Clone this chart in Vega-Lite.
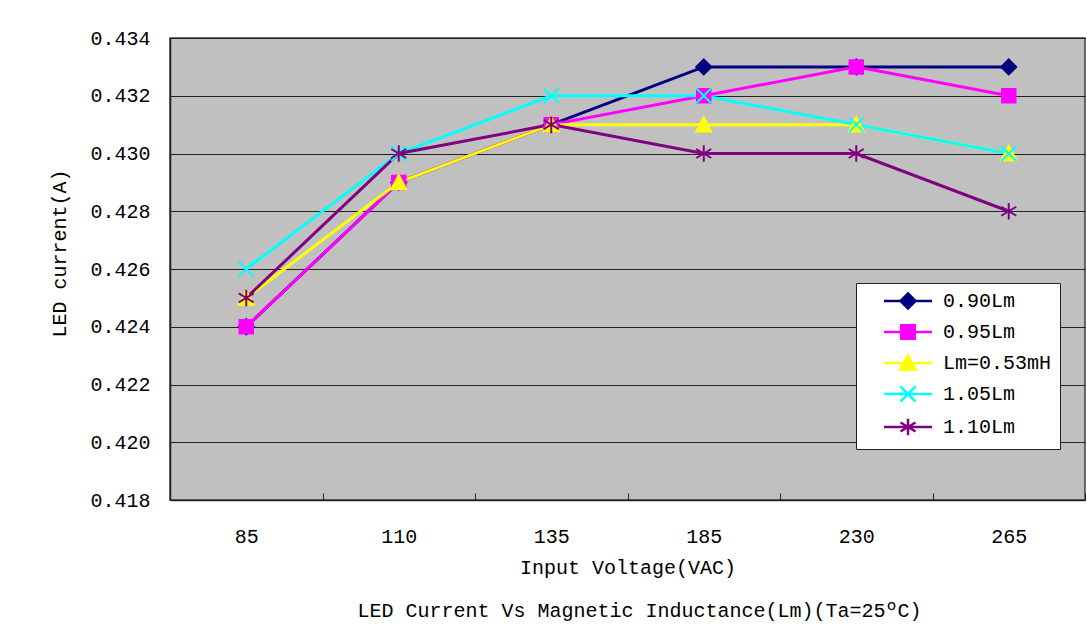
{
  "$schema": "https://vega.github.io/schema/vega-lite/v6.json",
  "width": 915,
  "height": 462,
  "autosize": {"type": "none"},
  "padding": {"left": 170, "top": 38, "right": 2, "bottom": 142},
  "background": "white",
  "config": {
    "font": "Liberation Mono",
    "view": {"fill": "#C0C0C0", "stroke": "#404040", "strokeWidth": 1.5},
    "axis": {"labelFont": "Liberation Mono", "titleFont": "Liberation Mono", "labelColor": "black", "titleColor": "black", "labelFontSize": 20, "titleFontSize": 20, "titleFontWeight": "normal", "domainColor": "#222", "tickColor": "#222", "gridColor": "#222", "gridWidth": 1},
    "legend": {"labelFont": "Liberation Mono", "labelFontSize": 20, "labelColor": "black"}
  },
  "title": {
    "text": "LED Current Vs Magnetic Inductance(Lm)(Ta=25ºC)",
    "orient": "bottom",
    "anchor": "middle",
    "font": "Liberation Mono",
    "fontSize": 20,
    "fontWeight": "normal",
    "color": "black",
    "offset": 24,
    "dx": 12
  },
  "data": {
    "values": [
      {"series": "0.90Lm", "voltage": "85", "current": 0.424},
      {"series": "0.90Lm", "voltage": "110", "current": 0.429},
      {"series": "0.90Lm", "voltage": "135", "current": 0.431},
      {"series": "0.90Lm", "voltage": "185", "current": 0.433},
      {"series": "0.90Lm", "voltage": "230", "current": 0.433},
      {"series": "0.90Lm", "voltage": "265", "current": 0.433},
      {"series": "0.95Lm", "voltage": "85", "current": 0.424},
      {"series": "0.95Lm", "voltage": "110", "current": 0.429},
      {"series": "0.95Lm", "voltage": "135", "current": 0.431},
      {"series": "0.95Lm", "voltage": "185", "current": 0.432},
      {"series": "0.95Lm", "voltage": "230", "current": 0.433},
      {"series": "0.95Lm", "voltage": "265", "current": 0.432},
      {"series": "Lm=0.53mH", "voltage": "85", "current": 0.425},
      {"series": "Lm=0.53mH", "voltage": "110", "current": 0.429},
      {"series": "Lm=0.53mH", "voltage": "135", "current": 0.431},
      {"series": "Lm=0.53mH", "voltage": "185", "current": 0.431},
      {"series": "Lm=0.53mH", "voltage": "230", "current": 0.431},
      {"series": "Lm=0.53mH", "voltage": "265", "current": 0.430},
      {"series": "1.05Lm", "voltage": "85", "current": 0.426},
      {"series": "1.05Lm", "voltage": "110", "current": 0.430},
      {"series": "1.05Lm", "voltage": "135", "current": 0.432},
      {"series": "1.05Lm", "voltage": "185", "current": 0.432},
      {"series": "1.05Lm", "voltage": "230", "current": 0.431},
      {"series": "1.05Lm", "voltage": "265", "current": 0.430},
      {"series": "1.10Lm", "voltage": "85", "current": 0.425},
      {"series": "1.10Lm", "voltage": "110", "current": 0.430},
      {"series": "1.10Lm", "voltage": "135", "current": 0.431},
      {"series": "1.10Lm", "voltage": "185", "current": 0.430},
      {"series": "1.10Lm", "voltage": "230", "current": 0.430},
      {"series": "1.10Lm", "voltage": "265", "current": 0.428}
    ]
  },
  "encoding": {
    "x": {
      "field": "voltage", "type": "ordinal", "sort": null,
      "scale": {"type": "band", "paddingInner": 0, "paddingOuter": 0},
      "axis": {"title": "Input Voltage(VAC)", "labelAngle": 0, "tickBand": "extent", "tickSize": -7, "labelPadding": 33, "titlePadding": 11, "grid": false, "domainWidth": 1.5}
    },
    "y": {
      "field": "current", "type": "quantitative",
      "scale": {"domain": [0.418, 0.434], "nice": false, "zero": false},
      "axis": {"title": "LED current(A)", "values": [0.418, 0.42, 0.422, 0.424, 0.426, 0.428, 0.43, 0.432, 0.434], "format": ".3f", "tickSize": -7, "labelPadding": 27, "titlePadding": 20, "titleY": 215, "domainWidth": 1.5}
    }
  },
  "layer": [
    {
      "mark": {"type": "line", "strokeWidth": 3},
      "encoding": {
        "color": {
          "field": "series", "type": "nominal",
          "scale": {"domain": ["0.90Lm", "0.95Lm", "Lm=0.53mH", "1.05Lm", "1.10Lm"], "range": ["#000080", "#FF00FF", "#FFFF00", "#00FFFF", "#800080"]},
          "legend": {
            "title": null,
            "orient": "none",
            "legendX": 686,
            "legendY": 245,
            "fillColor": "white",
            "strokeColor": "#222",
            "padding": 8,
            "symbolSize": 225,
            "symbolStrokeWidth": 2.5,
            "symbolOffset": 34,
            "labelOffset": 25,
            "rowPadding": 6
          }
        }
      }
    },
    {
      "transform": [{"filter": "datum.series == '0.90Lm'"}],
      "mark": {"type": "point", "shape": "M0,-1L1,0L0,1L-1,0Z", "filled": true, "fill": "#000080", "stroke": "#000080", "size": 225, "strokeWidth": 2, "opacity": 1}
    },
    {
      "transform": [{"filter": "datum.series == '0.95Lm'"}],
      "mark": {"type": "point", "shape": "M-0.9,-0.9H0.9V0.9H-0.9Z", "filled": true, "fill": "#FF00FF", "stroke": "#FF00FF", "size": 225, "strokeWidth": 2, "opacity": 1}
    },
    {
      "transform": [{"filter": "datum.series == 'Lm=0.53mH'"}],
      "mark": {"type": "point", "shape": "M0,-1L1,0.9H-1Z", "filled": true, "fill": "#FFFF00", "stroke": "#FFFF00", "size": 225, "strokeWidth": 2, "opacity": 1}
    },
    {
      "transform": [{"filter": "datum.series == '1.05Lm'"}],
      "mark": {"type": "point", "shape": "M-1,-1L1,1M-1,1L1,-1", "filled": true, "fill": "#00FFFF", "stroke": "#00FFFF", "size": 225, "strokeWidth": 2, "opacity": 1}
    },
    {
      "transform": [{"filter": "datum.series == '1.10Lm'"}],
      "mark": {"type": "point", "shape": "M0,-1.1V1.1M-1,-0.6L1,0.6M-1,0.6L1,-0.6", "filled": true, "fill": "#800080", "stroke": "#800080", "size": 225, "strokeWidth": 2, "opacity": 1}
    },
    {
      "transform": [{"filter": "false"}],
      "mark": {"type": "point", "filled": true, "size": 225, "strokeWidth": 2.5, "opacity": 1},
      "encoding": {
        "color": {
          "field": "series", "type": "nominal",
          "scale": {"domain": ["0.90Lm", "0.95Lm", "Lm=0.53mH", "1.05Lm", "1.10Lm"], "range": ["#000080", "#FF00FF", "#FFFF00", "#00FFFF", "#800080"]}
        },
        "shape": {
          "field": "series", "type": "nominal",
          "scale": {"domain": ["0.90Lm", "0.95Lm", "Lm=0.53mH", "1.05Lm", "1.10Lm"], "range": ["M-3.2,0H3.2M0,-1L1,0L0,1L-1,0Z", "M-3.2,0H3.2M-0.9,-0.9H0.9V0.9H-0.9Z", "M-3.2,0H3.2M0,-1L1,0.9H-1Z", "M-3.2,0H3.2M-1,-1L1,1M-1,1L1,-1", "M-3.2,0H3.2M0,-1.1V1.1M-1,-0.6L1,0.6M-1,0.6L1,-0.6"]},
          "legend": null
        },
        "stroke": {
          "field": "series", "type": "nominal",
          "scale": {"domain": ["0.90Lm", "0.95Lm", "Lm=0.53mH", "1.05Lm", "1.10Lm"], "range": ["#000080", "#FF00FF", "#FFFF00", "#00FFFF", "#800080"]},
          "legend": null
        }
      }
    }
  ]
}
